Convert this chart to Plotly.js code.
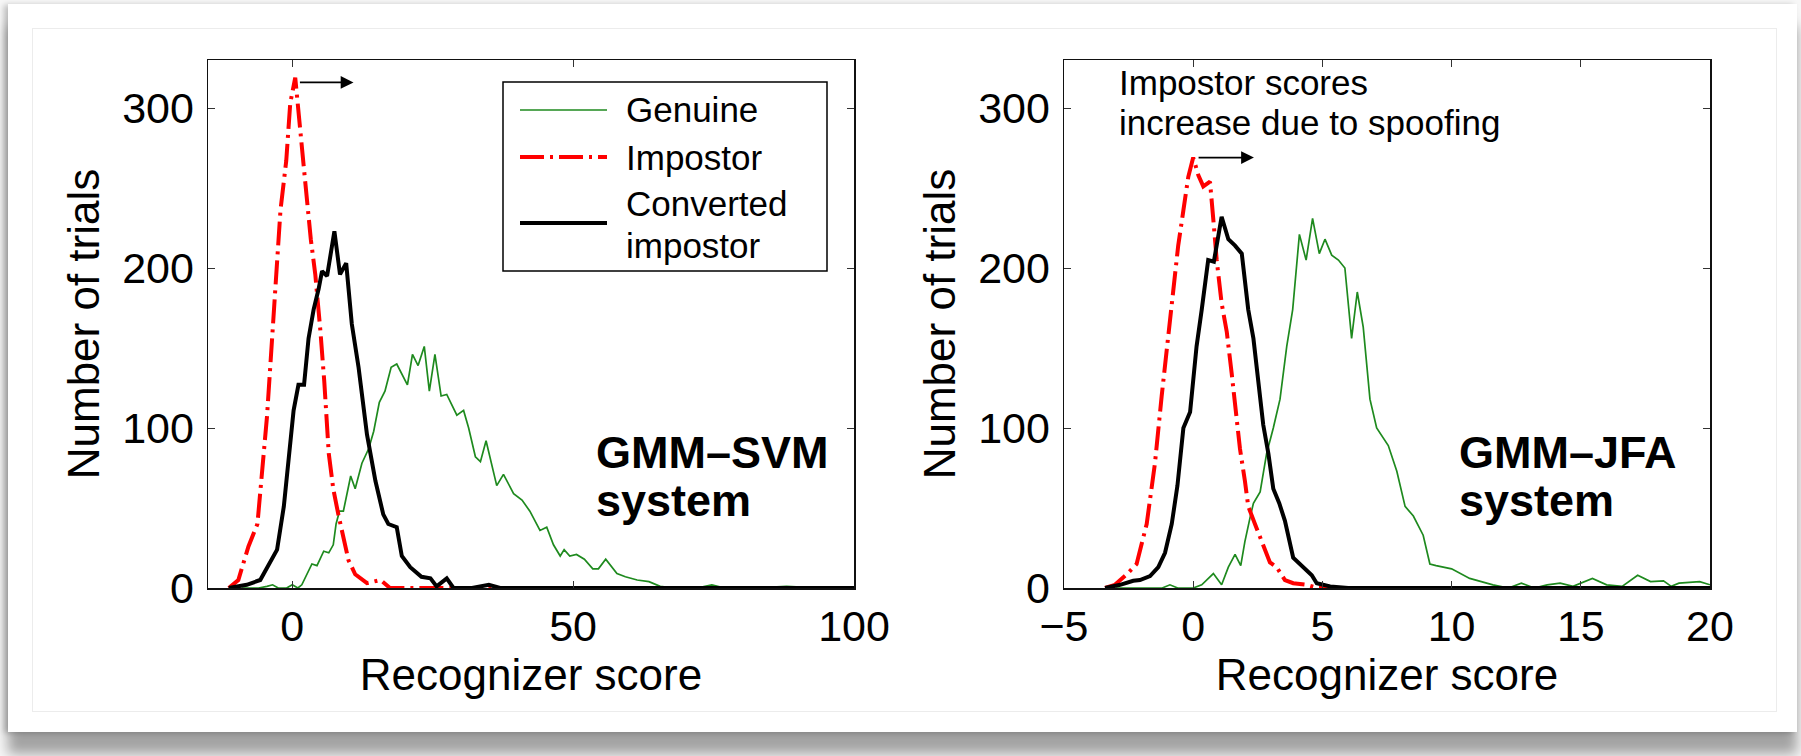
<!DOCTYPE html>
<html>
<head>
<meta charset="utf-8">
<script src="https://cdn.plot.ly/plotly-3.0.1.min.js"></script>
<style>
  html, body { margin: 0; padding: 0; background: #f7f7f7; width: 1801px; height: 756px; overflow: hidden; }
  #card { position: absolute; left: 8px; top: 4px; width: 1789px; height: 728px; background: #ffffff;
          box-shadow: 0 22px 12px rgba(0,0,0,0.34), -4px 1px 6px rgba(0,0,0,0.24); }
  #inner { position: absolute; left: 32px; top: 28px; width: 1743px; height: 682px; border: 1px solid #ececec; }
  #chart { position: absolute; left: 0; top: 0; width: 1801px; height: 756px; }
</style>
</head>
<body>
<div id="card"></div>
<div id="inner"></div>
<div id="chart"></div>
<script>
// ---- GMM-SVM system: score histograms (counts per bin) ----
const svmGenuineX = [-9, -6, -4.5, -3.5, -2.5, -1, 0, 1, 1.7, 2.6, 3.5, 4.4, 5.6, 6.5, 7.3, 7.8, 8.4, 9.1, 10.4, 11.2, 12.4, 13.6, 14.5, 15.5, 16.5, 17.6, 18.6, 20.5, 21.4, 22.4, 23.5, 24.4, 25.4, 26.5, 27.5, 29.3, 30.5, 31.4, 32.6, 33.5, 34.5, 36.4, 37.6, 39.4, 40.9, 42.3, 44.1, 45.3, 46.5, 47.7, 48.4, 49.4, 50.6, 52, 53.5, 54.5, 55.8, 57.8, 59.3, 61.4, 63.5, 65.5, 68, 72, 74.7, 77, 82, 88, 94, 100];
const svmGenuineY = [0, 0, 1, 2, 0, 0, 2, 0, 2, 9, 15, 14, 23, 22, 27, 40, 48, 48, 70, 62, 78, 87, 98, 116, 123, 138, 140, 127, 146, 139, 151, 123, 146, 120, 121, 108, 111, 100, 82, 79, 92, 64, 71, 59, 55, 48, 36, 38, 27, 20, 24, 20, 21, 18, 12, 12, 18, 9, 7, 5, 4, 1, 0, 0, 2, 0, 0, 1, 0, 0];

const svmImpostorX = [-11.3, -9.6, -7.8, -6.2, -4.5, -3.0, -2.1, -1.07, -0.36, 0.53, 1.1, 2.0, 3.3, 4.1, 5.0, 5.7, 6.5, 7.3, 8.2, 9.1, 10.0, 11.2, 13.3, 15.7, 17.4, 20, 30, 40, 50, 60, 70, 80, 90, 100];
const svmImpostorY = [0, 5, 26, 40, 107, 185, 236, 267, 303, 319, 296, 265, 218, 196, 161, 129, 84, 62, 46, 33, 17.5, 8.6, 3, 5, 0, 0, 0, 0, 0, 0, 0, 0, 0, 0];

const svmConvertedX = [-11.3, -8.1, -5.7, -4.2, -2.7, -1.5, -0.65, 0.24, 1.1, 2.1, 2.9, 3.8, 4.7, 5.3, 6.2, 7.5, 8.5, 9.6, 10.6, 11.8, 13.3, 14.8, 16.2, 17.1, 18.6, 19.5, 21, 23, 24.6, 25.7, 27.5, 28.7, 32, 35, 37, 45, 60, 80, 100];
const svmConvertedY = [0, 2, 5, 15, 24, 51, 82, 111, 127, 127, 156, 174, 187, 198, 195, 223, 196, 203, 165, 138, 96, 67, 46, 40, 38, 20, 13, 7, 6, 1, 6, 0, 0, 2, 0, 0, 0, 0, 0];

// ---- GMM-JFA system ----
const jfaGenuineX = [-3.0, -2, -1.2, -0.9, -0.6, 0, 0.33, 0.78, 1.1, 1.36, 1.62, 1.84, 2.0, 2.2, 2.33, 2.59, 2.84, 3.1, 3.36, 3.62, 3.85, 4.11, 4.37, 4.62, 4.88, 5.1, 5.36, 5.62, 5.87, 6.13, 6.35, 6.58, 6.84, 7.1, 7.55, 7.88, 8.2, 8.52, 8.9, 9.16, 9.4, 10.0, 10.7, 11.6, 12.2, 12.7, 13.2, 13.7, 14.2, 14.7, 15.45, 16.0, 16.6, 17.2, 17.7, 18.2, 18.5, 18.8, 19.6, 20];
const jfaGenuineY = [0, 0, 0, 2, 0, 0, 2, 9, 2, 13, 21, 14, 29, 44, 53, 60, 84, 100, 118, 151, 174, 221, 205, 231, 209, 218, 208, 205, 200, 156, 185, 163, 118, 100, 89, 73, 51, 45, 33, 15, 14, 12, 6, 2, 0, 3, 0, 2, 3, 1, 6, 2, 1, 8, 4, 4.5, 1, 3, 4, 2];

const jfaImpostorX = [-3.41, -3.03, -2.57, -2.19, -1.8, -1.48, -1.22, -0.96, -0.77, -0.58, -0.38, -0.19, 0.0, 0.2, 0.39, 0.65, 0.78, 0.91, 1.1, 1.3, 1.49, 1.68, 1.81, 2.0, 2.13, 2.39, 2.65, 2.97, 3.23, 3.55, 3.87, 4.39, 4.8, 6, 8, 12, 16, 20];
const jfaImpostorY = [0, 2, 8.6, 15, 40, 78, 120, 156, 187, 214, 236, 257, 269, 258, 251, 254, 230, 205, 178, 160, 134, 107, 87, 67, 51, 40, 29, 16, 13, 5, 3, 2, 0, 0, 0, 0, 0, 0];

const jfaConvertedX = [-3.41, -2.83, -2.32, -2.06, -1.67, -1.35, -1.09, -0.83, -0.61, -0.38, -0.12, 0.13, 0.33, 0.58, 0.8, 1.1, 1.36, 1.62, 1.88, 2.13, 2.33, 2.52, 2.71, 2.91, 3.1, 3.33, 3.55, 3.87, 4.13, 4.39, 4.59, 4.78, 5.04, 5.3, 6, 8, 12, 16, 20];
const jfaConvertedY = [0, 2, 4.5, 5, 7.5, 13, 22, 40, 64, 100, 110, 151, 174, 205, 204, 232, 218, 214, 209, 174, 156, 129, 102, 84, 62, 53, 42, 19, 15, 11, 8, 3, 2, 1, 0, 0, 0, 0, 0];

// axis ticks and labels
const svmTicks = [0, 50, 100];
const jfaTicks = [-5, 0, 5, 10, 15, 20];
const countTicks = [0, 100, 200, 300];
const seriesNames = ['Genuine', 'Impostor', 'Converted impostor'];
const legendLabels = ['Genuine', 'Impostor', 'Converted', 'impostor'];
const systemLabels = [['GMM\u2013SVM', 'system'], ['GMM\u2013JFA', 'system']];
const spoofNote = ['Impostor scores', 'increase due to spoofing'];
// arrows: [tail x, head x, y] in data units
const svmShift = [1.1, 10.9, 316];
const jfaShift = [0.15, 2.35, 269];

const W = 1801, H = 756;
const fx = p => p / W;          // pixel -> paper x
const fy = p => 1 - p / H;      // pixel -> paper y

const FONT = '"Liberation Sans", Arial, Helvetica, sans-serif';
const GREEN = '#1e8a1e', RED = '#ff0000', BLACK = '#000000';
const dashDot = '24px,6px,3px,6px';

const styles = [
  {color: GREEN, width: 1.7, dash: 'solid'},
  {color: RED, width: 4, dash: dashDot},
  {color: BLACK, width: 4, dash: 'solid'}
];

function trace(x, y, i, xa, ya) {
  return {x: x, y: y, type: 'scatter', mode: 'lines', name: seriesNames[i],
          xaxis: xa, yaxis: ya, showlegend: false, line: styles[i], hoverinfo: 'x+y'};
}

const data = [
  trace(svmGenuineX, svmGenuineY, 0, 'x', 'y'),
  trace(svmImpostorX, svmImpostorY, 1, 'x', 'y'),
  trace(svmConvertedX, svmConvertedY, 2, 'x', 'y'),
  trace(jfaGenuineX, jfaGenuineY, 0, 'x2', 'y2'),
  trace(jfaImpostorX, jfaImpostorY, 1, 'x2', 'y2'),
  trace(jfaConvertedX, jfaConvertedY, 2, 'x2', 'y2')
];

const tickFont = {family: FONT, size: 43, color: '#000'};
const titleFont = {family: FONT, size: 44, color: '#000'};

function xAxis(domain, range, ticks, anchor) {
  return {domain: domain, range: range, tickvals: ticks, ticktext: ticks.map(t => t < 0 ? '\u2212' + Math.abs(t) : String(t)),
          anchor: anchor, showline: true, linecolor: '#111', linewidth: 1.5, mirror: 'ticks',
          ticks: 'inside', ticklen: 7, tickwidth: 1, tickcolor: '#333', showgrid: false, zeroline: false,
          tickfont: tickFont, ticklabelstandoff: 0,
          title: {text: 'Recognizer score', font: titleFont, standoff: 5}, automargin: false, fixedrange: true};
}
function yAxis(domain, anchor) {
  return {domain: domain, range: [0, 330], tickvals: countTicks, anchor: anchor,
          showline: true, linecolor: '#111', linewidth: 1.5, mirror: 'ticks',
          ticks: 'inside', ticklen: 7, tickwidth: 1, tickcolor: '#333', showgrid: false, zeroline: false,
          tickfont: tickFont, ticklabelstandoff: 4,
          title: {text: 'Number of trials', font: titleFont, standoff: 9}, automargin: false, fixedrange: true};
}

const yDom = [fy(588), fy(60)];

const annotations = [];
const shapes = [];

// shift arrows
[[svmShift, 'x', 'y'], [jfaShift, 'x2', 'y2']].forEach(([a, xr, yr]) => {
  annotations.push({x: a[1], y: a[2], ax: a[0], ay: a[2], xref: xr, yref: yr, axref: xr, ayref: yr,
    text: '', showarrow: true, arrowhead: 2, arrowsize: 1.6, arrowwidth: 1.6, arrowcolor: '#000', standoff: 0, startstandoff: 0});
});

// system labels
const sysPos = [[594, 452, 500], [1457, 452, 500]];
systemLabels.forEach((lines, k) => {
  lines.forEach((t, j) => {
    annotations.push({xref: 'paper', yref: 'paper', x: fx(sysPos[k][0]), y: fy(sysPos[k][1 + j]),
      xanchor: 'left', yanchor: 'middle', text: '<b>' + t + '</b>', showarrow: false,
      font: {family: FONT, size: 45, color: '#000'}});
  });
});

// note above the right-hand curves
const notePos = [83, 123];
spoofNote.forEach((t, j) => {
  annotations.push({xref: 'paper', yref: 'paper', x: fx(1117), y: fy(notePos[j]), xanchor: 'left', yanchor: 'middle',
    text: t, showarrow: false, font: {family: FONT, size: 35, color: '#000'}});
});

// legend box
shapes.push({type: 'rect', xref: 'paper', yref: 'paper', x0: fx(503), x1: fx(827), y0: fy(82), y1: fy(271),
  line: {color: '#000', width: 1.5}, fillcolor: '#fff', layer: 'above'});
const legRows = [110, 157, 223];
legRows.forEach((py, i) => {
  shapes.push({type: 'line', xref: 'paper', yref: 'paper', x0: fx(520), x1: fx(607), y0: fy(py), y1: fy(py),
    line: {color: styles[i].color, width: styles[i].width, dash: styles[i].dash}, layer: 'above'});
});
const legTextY = [110, 157, 203, 246];
legendLabels.forEach((t, j) => {
  annotations.push({xref: 'paper', yref: 'paper', x: fx(624), y: fy(legTextY[j]), xanchor: 'left', yanchor: 'middle',
    text: t, showarrow: false, font: {family: FONT, size: 35, color: '#000'}});
});

const layout = {
  width: W, height: H,
  margin: {l: 0, r: 0, t: 0, b: 0, pad: 0},
  paper_bgcolor: 'rgba(0,0,0,0)', plot_bgcolor: '#ffffff',
  showlegend: false,
  xaxis: xAxis([fx(208), fx(854)], [-15, 100], svmTicks, 'y'),
  yaxis: yAxis(yDom, 'x'),
  xaxis2: xAxis([fx(1064), fx(1710)], [-5, 20], jfaTicks, 'y2'),
  yaxis2: yAxis(yDom, 'x2'),
  annotations: annotations,
  shapes: shapes,
  font: {family: FONT}
};

Plotly.newPlot('chart', data, layout, {staticPlot: true, displayModeBar: false});
</script>
</body>
</html>
